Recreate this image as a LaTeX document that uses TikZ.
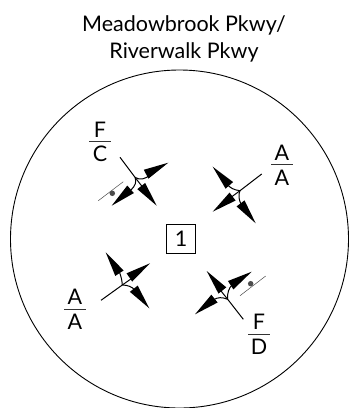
\documentclass[tikz,border=0pt]{standalone}
\usepackage{fontspec}
\setmainfont{Lato}
\usetikzlibrary{calc}
\tikzset{x=1pt,y=-1pt,
 lbl/.style={inner sep=0pt,anchor=base,font=\fontsize{21.5}{22}\selectfont},
 ln/.style={line width=1pt,black},
 bk/.style={line width=0.5pt,black!70},
 rule/.style={line width=.7pt,black!80},
 dotn/.style={circle,fill=black!70,inner sep=0pt,minimum size=5.5pt}}
\newcommand{\headat}[2]{% tip, direction point
  \fill[black] (#1) -- ($(#1)!25pt!(#2)!5pt!90:(#1)$) -- ($(#1)!25pt!(#2)!5pt!-90:(#1)$) -- cycle;}
\begin{document}
\begin{tikzpicture}
\useasboundingbox (0,0) rectangle (350,408);
\node[lbl] (t1) at (184,31.7) {Meadowbrook Pkwy/};
\node[lbl] (t2) at (184,58.3) {Riverwalk Pkwy};
\draw[line width=0.9pt] (179.5,239) circle[radius=169];
\node[draw,line width=0.7pt,minimum width=28.5pt,minimum height=29pt,inner sep=0pt,font=\fontsize{21.5}{22}\selectfont] (bx) at (181,238.7) {1};
% group 1
\coordinate (j1) at (135,177.3);\coordinate (e1) at (120,157.3);
\draw[ln] (e1) -- (j1);
\draw[ln] (j1) -- (146,191.5);
\draw[ln] (j1) .. controls (139,180) and (146,180) .. (150,174);
\draw[ln] (j1) .. controls (137,182) and (135,186) .. (131,190);
\headat{168.3,162.7}{146.5,174}
\headat{111.7,205.7}{131.5,188.5}
\headat{156.7,205.7}{141.2,186}
\draw[bk] (98.3,200.7) -- (123.3,181.7);
\node[dotn] (d1) at (112.3,193.3) {};
\node[lbl] (f1) at (100,137) {F};
\draw[rule] (89,141) -- (111,141);
\node[lbl] (c1) at (100,161) {C};
% group 2
\coordinate (j2) at (240,190.7);\coordinate (e2) at (261.7,174);
\draw[ln] (e2) -- (j2) -- (226,201);
\draw[ln] (j2) .. controls (234,190) and (230,188) .. (227,184);
\draw[ln] (j2) .. controls (238,195) and (239,200) .. (241,204);
\headat{212.7,166.7}{229,185}
\headat{212.7,211.7}{232,197}
\headat{255.7,223.3}{241,204}
\node[lbl] (a1) at (282,160.5) {A};
\draw[rule] (271,164.3) -- (293,164.3);
\node[lbl] (a2) at (282,185) {A};
% group 3
\coordinate (j3) at (122.3,285);\coordinate (e3) at (101,300.3);
\draw[ln] (e3) -- (j3) -- (138,274);
\draw[ln] (j3) .. controls (122,280) and (121,276) .. (119,271);
\draw[ln] (j3) .. controls (128,285) and (132,287) .. (135,290);
\headat{105.7,252.3}{120,274}
\headat{150,263.3}{130,277}
\headat{149.3,308.3}{134,289}
\node[lbl] (a3) at (75,304.5) {A};
\draw[rule] (64.3,309) -- (86,309);
\node[lbl] (a4) at (75,329) {A};
% group 4
\coordinate (j4) at (227.7,299.3);\coordinate (e4) at (243.3,319.3);
\draw[ln] (e4) -- (j4) -- (217,286);
\draw[ln] (j4) .. controls (227,293) and (229,288) .. (232,285);
\draw[ln] (j4) .. controls (222,297) and (218,297) .. (213,300);
\headat{206.7,271}{222,290}
\headat{251.7,271.7}{231,285}
\headat{195,314.3}{214,299}
\draw[bk] (240,295.7) -- (265.7,276);
\node[dotn] (d4) at (250.7,283.7) {};
\node[lbl] (f4) at (259,329.5) {F};
\draw[rule] (248,334.7) -- (270,334.7);
\node[lbl] (d5) at (259,354) {D};
\end{tikzpicture}
\end{document}
